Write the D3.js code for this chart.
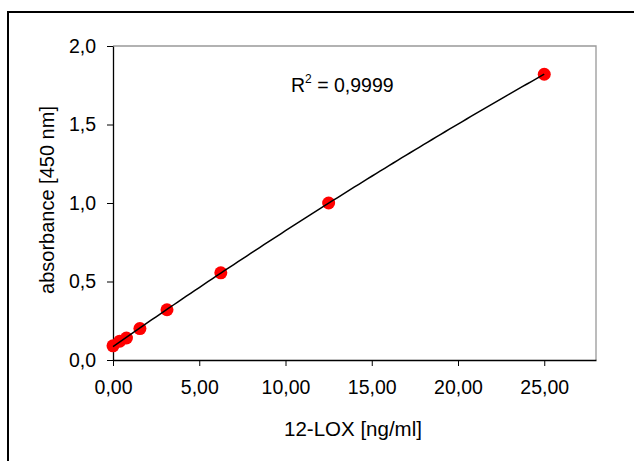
<!doctype html>
<html lang="en">
<head>
<meta charset="UTF-8">
<title>12-LOX standard curve</title>
<style>
  html, body { margin: 0; padding: 0; background: #fff; }
  svg { display: block; font-family: "Liberation Sans", Arial, sans-serif; }
</style>
</head>
<body>
<svg id="chart" width="634" height="461"></svg>
<script src="https://cdn.jsdelivr.net/npm/d3@7"></script>
<script>
  // standard concentrations and measured absorbance
  const conc = [0, 0.39, 0.78, 1.56, 3.13, 6.25, 12.5, 25]
  const absorb = [0.09, 0.12, 0.14, 0.20, 0.32, 0.555, 1.0, 1.82]
  const xTicks = [0, 5, 10, 15, 20, 25]
  const yTicks = [0, 0.5, 1.0, 1.5, 2.0]
  const r2Label = '0,9999'

  const margin = { left: 113, top: 46, right: 596, bottom: 360 }
  const svg = d3.select('#chart')

  const x = d3.scaleLinear().domain([0, 28]).range([margin.left, margin.right])
  const y = d3.scaleLinear().domain([0, 2]).range([margin.bottom, margin.top])

  // outer frame (runs off the right / bottom edge like the original)
  svg.append('rect')
    .attr('x', 8).attr('y', 12)
    .attr('width', 640).attr('height', 470)
    .attr('fill', 'none').attr('stroke', '#000').attr('stroke-width', 2)

  // plot area box, grey on top and right
  svg.append('path')
    .attr('d', `M${margin.left},${margin.top}H${margin.right}V${margin.bottom}`)
    .attr('fill', 'none').attr('stroke', '#999').attr('stroke-width', 1.3)

  const comma = d => d3.format('.1f')(d).replace('.', ',')
  const comma2 = d => d3.format('.2f')(d).replace('.', ',')

  const xAxis = svg.append('g')
    .attr('transform', `translate(0,${margin.bottom})`)
    .call(d3.axisBottom(x).tickValues(xTicks).tickSize(6).tickSizeOuter(0).tickFormat(comma2))
  xAxis.select('.domain').attr('stroke', '#000').attr('stroke-width', 1.3)
  xAxis.selectAll('text').attr('font-size', 19.5).attr('fill', '#000').attr('y', 14).attr('dy', '1em')

  const yAxis = svg.append('g')
    .attr('transform', `translate(${margin.left},0)`)
    .call(d3.axisLeft(y).tickValues(yTicks).tickSize(6).tickSizeOuter(0).tickFormat(comma))
  yAxis.select('.domain').attr('stroke', '#000').attr('stroke-width', 1.3)
  yAxis.selectAll('text').attr('font-size', 19.5).attr('fill', '#000').attr('x', -17)

  // quadratic least-squares trendline from the points
  function polyFit(xs, ys) {
    let s = [0, 0, 0, 0, 0], t = [0, 0, 0]
    xs.forEach((xv, i) => {
      for (let k = 0; k < 5; k++) s[k] += Math.pow(xv, k)
      for (let k = 0; k < 3; k++) t[k] += ys[i] * Math.pow(xv, k)
    })
    const m = [[s[0], s[1], s[2], t[0]], [s[1], s[2], s[3], t[1]], [s[2], s[3], s[4], t[2]]]
    for (let i = 0; i < 3; i++) {
      for (let j = i + 1; j < 3; j++) {
        const f = m[j][i] / m[i][i]
        for (let k = i; k < 4; k++) m[j][k] -= f * m[i][k]
      }
    }
    const c = [0, 0, 0]
    for (let i = 2; i >= 0; i--) {
      let v = m[i][3]
      for (let k = i + 1; k < 3; k++) v -= m[i][k] * c[k]
      c[i] = v / m[i][i]
    }
    return xv => c[0] + c[1] * xv + c[2] * xv * xv
  }
  const fit = polyFit(conc, absorb)
  const fitPts = d3.range(0, 25.001, 0.25).map(v => [v, fit(v)])

  const line = d3.line().x(d => x(d[0])).y(d => y(d[1]))

  svg.selectAll('.pt')
    .data(conc.map((c, i) => [c, absorb[i]]))
    .join('circle')
    .attr('class', 'pt')
    .attr('cx', d => x(d[0]))
    .attr('cy', d => y(d[1]))
    .attr('r', 6.5)
    .attr('fill', '#ff0000')

  svg.append('path')
    .attr('d', line(fitPts))
    .attr('fill', 'none')
    .attr('stroke', '#000')
    .attr('stroke-width', 1.5)

  // R² label
  const r2 = svg.append('text')
    .attr('x', 291).attr('y', 92)
    .attr('font-size', 19.5)
  r2.append('tspan').text('R')
  r2.append('tspan').attr('font-size', 12).attr('dy', -9).text('2')
  r2.append('tspan').attr('dy', 9).text(' = ' + r2Label)

  svg.append('text')
    .attr('x', 353).attr('y', 436)
    .attr('text-anchor', 'middle')
    .attr('font-size', 20.5)
    .text('12-LOX [ng/ml]')

  svg.append('text')
    .attr('transform', 'translate(54,200) rotate(-90)')
    .attr('text-anchor', 'middle')
    .attr('font-size', 20)
    .text('absorbance [450 nm]')
</script>
</body>
</html>
